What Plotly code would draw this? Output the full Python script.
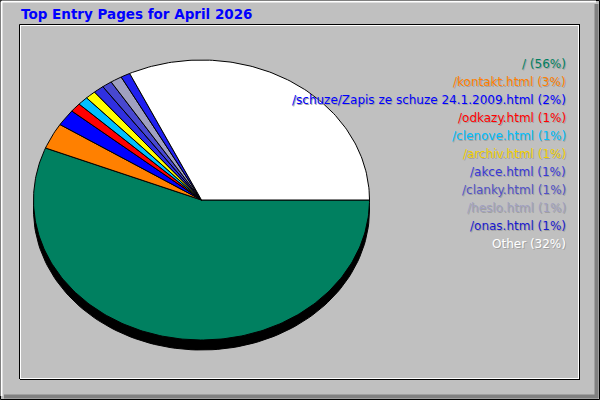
import math
import plotly.graph_objects as go

# entry pages, hits, slice colours
pages = ['/', '/kontakt.html', '/schuze/Zapis ze schuze 24.1.2009.html', '/odkazy.html',
         '/clenove.html', '/archiv.html', '/akce.html', '/clanky.html', '/heslo.html',
         '/onas.html', 'Other']
hits = [1120, 60, 38, 21, 20, 20, 20, 19, 22, 18, 640]
colors = ['#008060', '#FF8000', '#0000FF', '#FF0000', '#00C0FF', '#FFFF00',
          '#3030E0', '#4848D0', '#A0A0C0', '#2020F0', '#FFFFFF']
text_colors = ['#008060', '#FF8000', '#0000FF', '#FF0000', '#00C0FF', '#F0D000',
               '#3838D8', '#5050C8', '#A0A0C0', '#1818D0', '#FFFFFF']

cx, cy, rx, ry = 201.5, 200, 168, 140
total = sum(hits)

fig = go.Figure()

# 3d edge under the pie
t = [i / 200 * 2 * math.pi for i in range(201)]
fig.add_trace(go.Scatter(x=[cx + rx * math.cos(a) for a in t], y=[cy + 10 + ry * math.sin(a) for a in t],
                         fill='toself', fillcolor='black', mode='lines', line=dict(color='black', width=1),
                         hoverinfo='skip'))

start = 0.0
for name, h, col in zip(pages, hits, colors):
    end = start + h / total * 2 * math.pi
    n = max(3, int((end - start) / (2 * math.pi) * 360))
    angs = [start + (end - start) * k / n for k in range(n + 1)]
    xs = [cx] + [cx + rx * math.cos(a) for a in angs] + [cx]
    ys = [cy] + [cy + ry * math.sin(a) for a in angs] + [cy]
    fig.add_trace(go.Scatter(x=xs, y=ys, fill='toself', fillcolor=col, mode='lines',
                             line=dict(color='black', width=1), name=name, hoverinfo='name'))
    start = end

# legend text on the right
for i, (name, h, tc) in enumerate(zip(pages, hits, text_colors)):
    label = '%s (%d%%)' % (name, round(h / total * 100))
    y = 64 + 18 * i
    fig.add_annotation(x=569, y=y + 1, text=label, showarrow=False, xanchor='right', yanchor='middle',
                       font=dict(family='DejaVu Sans', size=12, color='#A0A0A0'))
    fig.add_annotation(x=568, y=y, text=label, showarrow=False, xanchor='right', yanchor='middle',
                       font=dict(family='DejaVu Sans', size=12, color=tc))

fig.add_annotation(x=19, y=14, text='<b>Top Entry Pages for April 2026</b>', showarrow=False,
                   xanchor='left', yanchor='middle', font=dict(family='DejaVu Sans', size=13.5, color='#0000FF'))

shapes = [
    # outer bevel
    dict(type='rect', x0=0.5, y0=0.5, x1=599.5, y1=399.5, line=dict(color='black', width=1)),
    dict(type='line', x0=1.5, y0=1.5, x1=596, y1=1.5, line=dict(color='white', width=2)),
    dict(type='line', x0=1.5, y0=1.5, x1=1.5, y1=396, line=dict(color='white', width=2)),
    dict(type='line', x0=4, y0=396.5, x1=598, y1=396.5, line=dict(color='#808080', width=4)),
    dict(type='line', x0=596.5, y0=4, x1=596.5, y1=398, line=dict(color='#808080', width=4)),
    # inner panel
    dict(type='line', x0=19.5, y0=24.5, x1=579, y1=24.5, line=dict(color='black', width=1)),
    dict(type='line', x0=19.5, y0=24.5, x1=19.5, y1=379, line=dict(color='black', width=1)),
    dict(type='line', x0=20, y0=25.5, x1=578, y1=25.5, line=dict(color='white', width=1)),
    dict(type='line', x0=20.5, y0=25, x1=20.5, y1=378, line=dict(color='white', width=1)),
    dict(type='line', x0=20, y0=378.5, x1=579, y1=378.5, line=dict(color='white', width=1)),
    dict(type='line', x0=578.5, y0=25, x1=578.5, y1=379, line=dict(color='white', width=1)),
    dict(type='line', x0=20, y0=379.5, x1=580, y1=379.5, line=dict(color='black', width=1)),
    dict(type='line', x0=579.5, y0=24, x1=579.5, y1=380, line=dict(color='black', width=1)),
]

fig.update_layout(
    width=600, height=400, margin=dict(l=0, r=0, t=0, b=0),
    paper_bgcolor='#C0C0C0', plot_bgcolor='#C0C0C0', showlegend=False,
    xaxis=dict(range=[0, 600], visible=False, fixedrange=True),
    yaxis=dict(range=[400, 0], visible=False, fixedrange=True),
    shapes=shapes,
)

fig.write_html("out.html", config={'displayModeBar': False},
               post_script="document.body.style.margin='0';document.body.style.overflow='hidden';")
